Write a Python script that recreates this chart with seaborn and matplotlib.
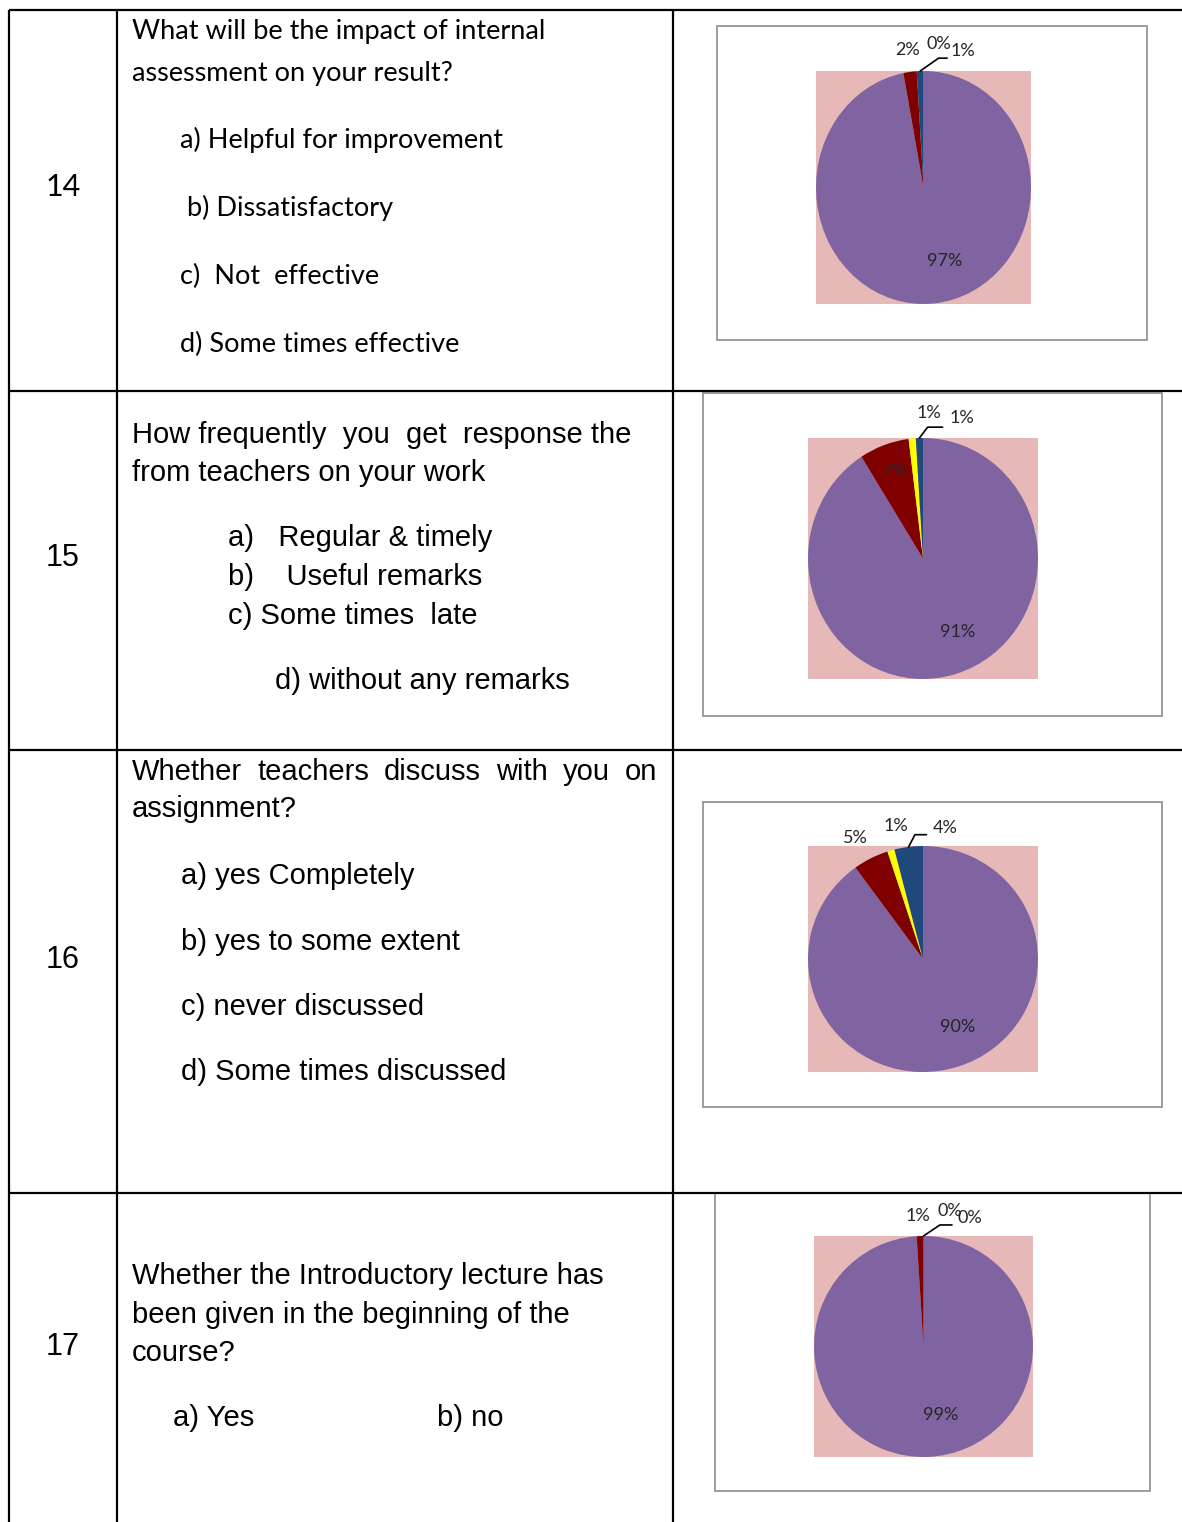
import numpy as np
import matplotlib
matplotlib.use("Agg")
import matplotlib.pyplot as plt
import matplotlib.patches as mpatches
import seaborn as sns

# share of answers in %, slices a), b), c), d)
q14_pct = [97, 2, 0, 1]
q15_pct = [91, 7, 1, 1]
q16_pct = [90, 5, 1, 4]
q17_pct = [99, 1, 0, 0]

slice_colors = ["#8064A2", "#800000", "#FFFF00", "#1F497D"]
plot_bg = "#E6B9B8"

q_numbers = ["14", "15", "16", "17"]
q14_question = ["What will be the impact of internal", "assessment on your result?"]
q14_options = ["a) Helpful for improvement", "b) Dissatisfactory", "c)  Not  effective",
               "d) Some times effective"]
q15_question = ["How frequently  you  get  response the", "from teachers on your work"]
q15_options = ["a)   Regular & timely", "b)    Useful remarks", "c) Some times  late",
               "d) without any remarks"]
q16_question = ["Whether  teachers  discuss  with  you  on", "assignment?"]
q16_options = ["a) yes Completely", "b) yes to some extent", "c) never discussed",
               "d) Some times discussed"]
q17_question = ["Whether the Introductory lecture has", "been given in the beginning of the", "course?"]
q17_options = ["a) Yes", "b) no"]

W, H = 1182, 1522
sns.set_theme(style="white")
plt.rcParams["font.family"] = ["Liberation Sans", "DejaVu Sans"]

fig = plt.figure(figsize=(W / 100, H / 100), dpi=100)
bg = fig.add_axes([0, 0, 1, 1])
bg.set_xlim(0, W)
bg.set_ylim(H, 0)
bg.axis("off")

# table grid
lw = 1.6
for x in [9, 117, 673]:
    bg.plot([x, x], [10, H], color="black", lw=lw, solid_capstyle="butt")
for y in [10, 391, 750, 1193]:
    bg.plot([9, W], [y, y], color="black", lw=lw, solid_capstyle="butt")

calibri = ["Lato", "DejaVu Sans"]
arial = ["Liberation Sans", "DejaVu Sans"]

# row numbers
for num, yb, fam in zip(q_numbers, [196, 566, 968, 1355], [calibri, arial, arial, arial]):
    bg.text(63, yb, num, ha="center", va="baseline", fontsize=22, family=fam, color="black")

# row 14 (Calibri-like)
fs14 = 19.5
for line, yb in zip(q14_question, [39, 81]):
    bg.text(132, yb, line, va="baseline", fontsize=fs14, family=calibri, color="black")
for opt, x, yb in zip(q14_options, [180, 187, 180, 180], [148, 216, 284, 352]):
    bg.text(x, yb, opt, va="baseline", fontsize=fs14, family=calibri, color="black")

# row 15
fsA = 21
for line, yb in zip(q15_question, [443, 481]):
    bg.text(132, yb, line, va="baseline", fontsize=fsA, family=arial, color="black")
for opt, x, yb in zip(q15_options, [228, 228, 228, 275], [546, 585, 624, 689]):
    bg.text(x, yb, opt, va="baseline", fontsize=fsA, family=arial, color="black")

# row 16, first line justified between the cell margins
renderer = fig.canvas.get_renderer()
words = q16_question[0].split()
wtexts = [bg.text(0, 780, w, va="baseline", fontsize=fsA, family=arial, color="black")
          for w in words]
widths = [t.get_window_extent(renderer).width for t in wtexts]
gap = (657 - 132 - sum(widths)) / (len(words) - 1)
xpos = 132
for t, w in zip(wtexts, widths):
    t.set_x(xpos)
    xpos += w + gap
bg.text(132, 817, q16_question[1], va="baseline", fontsize=fsA, family=arial, color="black")
for opt, yb in zip(q16_options, [884, 950, 1015, 1080]):
    bg.text(181, yb, opt, va="baseline", fontsize=fsA, family=arial, color="black")

# row 17
for line, yb in zip(q17_question, [1284, 1323, 1361]):
    bg.text(132, yb, line, va="baseline", fontsize=fsA, family=arial, color="black")
for opt, x in zip(q17_options, [173, 437]):
    bg.text(x, 1426, opt, va="baseline", fontsize=fsA, family=arial, color="black")

# chart frames and plot areas (pixels)
frames = [(717, 26, 1147, 340), (703, 393, 1162, 716), (703, 802, 1162, 1107), (715, 1193, 1150, 1491)]
plot_areas = [(816, 71, 1031, 304), (808, 438, 1038, 679), (808, 846, 1038, 1072), (814, 1236, 1033, 1457)]

# data label positions in pie coordinates, and the leader line of the last label
label_pos = [
    [(0.20, -0.63), (-0.15, 1.18), (0.14, 1.23), (0.37, 1.17)],
    [(0.30, -0.61), (-0.25, 0.73), (0.05, 1.21), (0.34, 1.17)],
    [(0.30, -0.60), (-0.59, 1.07), (-0.24, 1.18), (0.19, 1.16)],
    [(0.16, -0.62), (-0.05, 1.18), (0.24, 1.23), (0.42, 1.16)],
]
leaders = [
    [(0.14, 1.11), (0.22, 1.11)],
    [(0.04, 1.09), (0.17, 1.09)],
    [(-0.07, 1.10), (0.03, 1.10)],
    [(0.15, 1.10), (0.26, 1.10)],
]

for pct, fr, pa, lpos, lead in zip([q14_pct, q15_pct, q16_pct, q17_pct],
                                   frames, plot_areas, label_pos, leaders):
    bg.add_patch(mpatches.Rectangle((fr[0], fr[1]), fr[2] - fr[0], fr[3] - fr[1],
                                    fill=False, edgecolor="#8C8C8C", lw=1.2))
    ax = fig.add_axes([pa[0] / W, 1 - pa[3] / H, (pa[2] - pa[0]) / W, (pa[3] - pa[1]) / H])
    wedges, _ = ax.pie(pct, colors=sns.color_palette(slice_colors), startangle=90,
                       counterclock=False, radius=1, frame=True,
                       wedgeprops=dict(linewidth=0))
    ax.set_aspect("auto")
    ax.set_xlim(-1, 1)
    ax.set_ylim(-1, 1)
    ax.set_xticks([])
    ax.set_yticks([])
    for s in ax.spines.values():
        s.set_visible(False)
    ax.set_facecolor(plot_bg)
    for v, (lx, ly) in zip(pct, lpos):
        ax.text(lx, ly, f"{v}%", ha="center", va="center", fontsize=13,
                family=calibri, color="#262626", clip_on=False)
    w = wedges[3]
    th = np.deg2rad((w.theta1 + w.theta2) / 2)
    xs = [np.cos(th), lead[0][0], lead[1][0]]
    ys = [np.sin(th), lead[0][1], lead[1][1]]
    ax.plot(xs, ys, color="black", lw=1.2, clip_on=False)

fig.savefig("out.png", dpi=100)
